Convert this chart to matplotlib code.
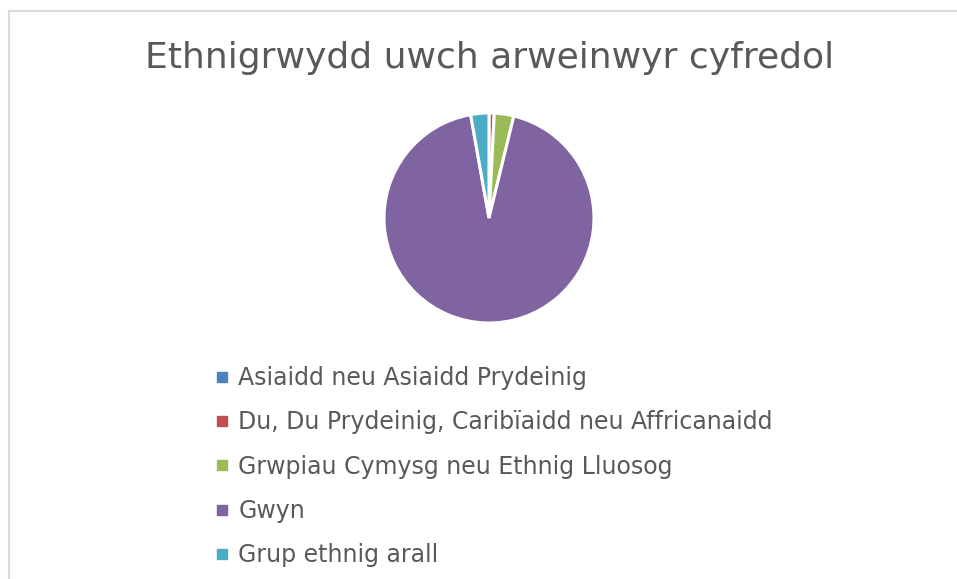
import matplotlib.pyplot as plt
from matplotlib.lines import Line2D
from matplotlib.patches import Rectangle

# Data
labels = [
    "Asiaidd neu Asiaidd Prydeinig",
    "Du, Du Prydeinig, Caribïaidd neu Affricanaidd",
    "Grwpiau Cymysg neu Ethnig Lluosog",
    "Gwyn",
    "Grup ethnig arall",
]
shares = [0.0, 0.8, 3.0, 93.4, 2.8]
colors = ["#4F81BD", "#C0504D", "#9BBB59", "#8064A2", "#4BACC6"]

title = "Ethnigrwydd uwch arweinwyr cyfredol"
text_color = "#595959"

W, H = 957, 579
fig = plt.figure(figsize=(W / 100, H / 100), dpi=100)
fig.patch.set_facecolor("white")

# chart area border (top and left visible)
fig.patches.append(Rectangle((9 / W, -0.1), 1.2, 1 - 11 / H + 0.1,
                             transform=fig.transFigure, fill=False,
                             edgecolor="#D9D9D9", linewidth=1.5))

# pie: centre ~ (489, 218) px, radius ~105 px
ax = fig.add_axes([384 / W, (H - 323) / H, 210 / W, 210 / H])
ax.pie(shares, colors=colors, startangle=90, counterclock=False,
       wedgeprops=dict(edgecolor="white", linewidth=2.2))
ax.set_xlim(-1, 1)
ax.set_ylim(-1, 1)
ax.set_aspect("equal")
ax.axis("off")

fig.text(490 / W, 1 - 58 / H, title, ha="center", va="center",
         fontsize=26, color=text_color)

handles = [Line2D([], [], marker="s", linestyle="none", markersize=6.5,
                  markerfacecolor=c, markeredgecolor=c) for c in colors]
leg = fig.legend(handles, labels, loc="upper left",
                 bbox_to_anchor=(216 / W, 1 - 366 / H),
                 frameon=False, fontsize=17, labelspacing=0.86,
                 handlelength=0.5, handletextpad=0.45,
                 borderpad=0, borderaxespad=0)
for t in leg.get_texts():
    t.set_color(text_color)

fig.savefig("out.png", dpi=100)
